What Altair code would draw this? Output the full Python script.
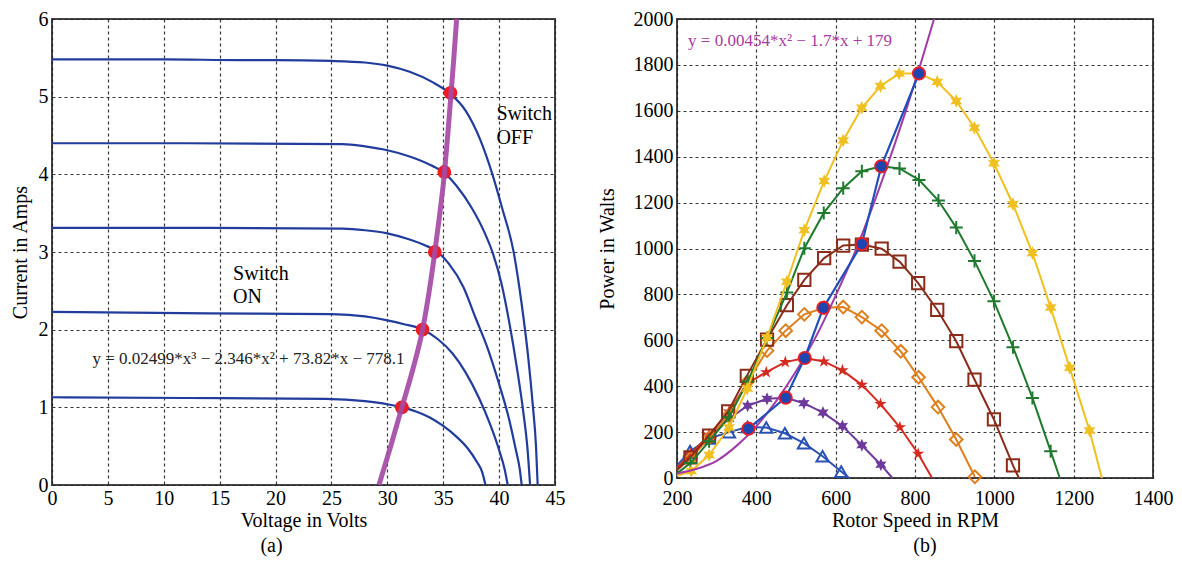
import altair as alt
import pandas as pd

FONT = "Liberation Serif"

# ---------------- Panel (a): I-V curves ----------------
v_c1 = [0, 10, 17, 20, 25, 28, 30, 32, 34, 35.6, 37, 38.3, 39.4, 40.3, 41.3, 42.0, 42.6, 43.0, 43.3, 43.45]
i_c1 = [5.48, 5.48, 5.47, 5.47, 5.46, 5.44, 5.40, 5.32, 5.19, 5.04, 4.82, 4.45, 4.00, 3.55, 3.00, 2.35, 1.65, 1.05, 0.5, 0.0]
v_c2 = [0, 12, 26, 28, 30, 32, 34, 35.1, 36.2, 37.5, 38.7, 39.4, 40.2, 40.9, 41.6, 42.2, 42.55, 42.77]
i_c2 = [4.40, 4.40, 4.39, 4.36, 4.31, 4.23, 4.11, 4.02, 3.85, 3.58, 3.25, 3.00, 2.60, 2.10, 1.50, 0.90, 0.45, 0.0]
v_c3 = [0, 14, 26, 28, 30, 32, 33.3, 34.3, 35.5, 36.8, 37.9, 39.0, 40.0, 40.8, 41.5, 41.85, 42.02]
i_c3 = [3.31, 3.31, 3.30, 3.28, 3.24, 3.16, 3.09, 3.02, 2.85, 2.55, 2.15, 1.75, 1.30, 0.90, 0.45, 0.20, 0.0]
v_c4 = [0, 14, 25, 28, 30, 31.5, 33.2, 34.5, 35.8, 37.0, 38.2, 39.2, 40.0, 40.5, 40.77]
i_c4 = [2.23, 2.21, 2.20, 2.17, 2.12, 2.07, 2.00, 1.88, 1.70, 1.45, 1.12, 0.78, 0.45, 0.20, 0.0]
v_c5 = [0, 12, 24.5, 28, 30, 31.3, 32.5, 33.8, 35, 36.2, 37.2, 38.0, 38.5, 38.78]
i_c5 = [1.13, 1.12, 1.11, 1.08, 1.04, 1.00, 0.95, 0.87, 0.76, 0.62, 0.47, 0.30, 0.16, 0.0]

v_fit = [29.25, 30.3, 31.3, 32.3, 33.15, 33.75, 34.25, 34.7, 35.1, 35.4, 35.68, 35.95, 36.2]
i_fit = [0, 0.5, 1.0, 1.5, 2.0, 2.5, 3.0, 3.5, 4.0, 4.5, 5.0, 5.5, 6.0]

v_mpp = [31.3, 33.15, 34.25, 35.1, 35.65]
i_mpp = [1.0, 2.0, 3.0, 4.03, 5.05]

a_x_ticks = [0, 5, 10, 15, 20, 25, 30, 35, 40, 45]
a_y_ticks = [0, 1, 2, 3, 4, 5, 6]

a_labels = ["Switch", "OFF", "Switch", "ON"]
a_label_x = [39.76, 39.76, 16.2, 16.2]
a_label_y = [4.78, 4.47, 2.72, 2.42]
a_eq = "y = 0.02499*x\u00b3 \u2212 2.346*x\u00b2 +  73.82*x \u2212 778.1"
a_eq_x = [3.62]
a_eq_y = [1.62]

# ---------------- Panel (b): power curves ----------------
rpm_tri = [200, 233, 281, 331, 378, 425, 472, 520, 567, 614, 634]
pw_tri = [55, 117, 172, 200, 222, 220, 195, 152, 95, 28, 0]
rpm_pur = [200, 233, 281, 331, 378, 427, 474, 520, 568, 617, 666, 714, 743]
pw_pur = [40, 95, 180, 258, 315, 345, 350, 326, 285, 226, 143, 58, 0]
rpm_red = [200, 234, 281, 331, 377, 425, 473, 522, 570, 617, 666, 713, 762, 808, 843]
pw_red = [45, 105, 188, 290, 412, 461, 505, 523, 508, 469, 406, 322, 221, 106, 0]
rpm_ora = [200, 234, 281, 331, 378, 427, 474, 521, 571, 619, 666, 716, 764, 809, 858, 904, 951]
pw_ora = [35, 85, 175, 275, 420, 555, 642, 713, 742, 745, 701, 642, 552, 439, 309, 168, 5]
rpm_bro = [200, 234, 281, 329, 376, 427, 477, 521, 571, 619, 666, 716, 761, 808, 856, 904, 950, 999, 1047, 1062]
pw_bro = [35, 90, 185, 290, 445, 603, 753, 863, 958, 1013, 1017, 999, 943, 849, 733, 596, 429, 255, 55, 0]
rpm_grn = [200, 234, 281, 331, 378, 427, 477, 521, 570, 619, 666, 715, 761, 810, 859, 904, 950, 999, 1047, 1096, 1142, 1165]
pw_grn = [20, 65, 160, 265, 420, 610, 808, 1001, 1155, 1263, 1337, 1358, 1349, 1299, 1209, 1091, 946, 770, 570, 349, 117, 0]
rpm_yel = [200, 236, 281, 331, 377, 427, 477, 521, 571, 619, 666, 713, 760, 810, 856, 904, 950, 999, 1047, 1096, 1142, 1190, 1240, 1271]
pw_yel = [10, 30, 100, 220, 390, 612, 855, 1080, 1294, 1471, 1613, 1708, 1762, 1763, 1726, 1643, 1526, 1371, 1193, 980, 743, 480, 207, 0]

rpm_par = [200, 250, 300, 350, 400, 450, 500, 550, 600, 650, 700, 750, 800, 848]
pw_par = [20, 40, 75, 140, 225, 335, 465, 615, 795, 990, 1215, 1460, 1725, 2000]

rpm_mpp = [380, 474, 522, 569, 666, 715, 810]
pw_mpp = [215, 350, 523, 742, 1020, 1358, 1763]

b_x_ticks = [200, 400, 600, 800, 1000, 1200, 1400]
b_y_ticks = [0, 200, 400, 600, 800, 1000, 1200, 1400, 1600, 1800, 2000]
b_eq = "y = 0.00454*x\u00b2 \u2212 1.7*x + 179"
b_eq_x = [228]
b_eq_y = [1904]

# ---------------- styles ----------------
PENTAGRAM = ("M0,-1L0.225,-0.309L0.951,-0.309L0.363,0.118L0.588,0.809L0,0.382"
             "L-0.588,0.809L-0.363,0.118L-0.951,-0.309L-0.225,-0.309Z")
HEXAGRAM = ("M0,-1L0.25,-0.433L0.866,-0.5L0.5,0L0.866,0.5L0.25,0.433L0,1"
            "L-0.25,0.433L-0.866,0.5L-0.5,0L-0.866,-0.5L-0.25,-0.433Z")
PLUS = "M-1,0L1,0M0,-1L0,1"

AX = dict(labelFont=FONT, titleFont=FONT, labelFontSize=20, titleFontSize=20,
          titleFontWeight="normal", labelColor="black", titleColor="black",
          labelFlush=False, format="d")


def frame(xs, ys, **extra):
    d = pd.DataFrame({"x": xs, "y": ys})
    d["o"] = range(len(d))
    for k, v in extra.items():
        d[k] = v
    return d


# ---------------- Panel (a) chart ----------------
xa = alt.X("x:Q", scale=alt.Scale(domain=[0, 45], nice=False, zero=False),
           axis=alt.Axis(values=a_x_ticks, title="Voltage in Volts", labelPadding=3, titlePadding=2, **AX))
ya = alt.Y("y:Q", scale=alt.Scale(domain=[0, 6], nice=False, zero=False),
           axis=alt.Axis(values=a_y_ticks, title="Current in Amps", labelPadding=4, titlePadding=8, **AX))

iv = pd.concat([
    frame(v_c1, i_c1, s="c1"), frame(v_c2, i_c2, s="c2"), frame(v_c3, i_c3, s="c3"),
    frame(v_c4, i_c4, s="c4"), frame(v_c5, i_c5, s="c5"),
], ignore_index=True)

iv_lines = alt.Chart(iv).mark_line(color="#213c9c", strokeWidth=2.2, interpolate="monotone").encode(
    x=xa, y=ya, detail="s:N", order="o:Q")
mpp_a = alt.Chart(frame(v_mpp, i_mpp)).mark_circle(color="#ec1c24", size=190, opacity=1).encode(x=xa, y=ya)
fit_a = alt.Chart(frame(v_fit, i_fit)).mark_line(color="#a54aa6", strokeWidth=5, opacity=0.92,
                                                  interpolate="monotone", clip=True).encode(x=xa, y=ya, order="o:Q")
txt_a = alt.Chart(pd.DataFrame({"x": a_label_x, "y": a_label_y, "t": a_labels})).mark_text(
    align="left", baseline="middle", font=FONT, fontSize=20, color="black").encode(x=xa, y=ya, text="t:N")
eq_a = alt.Chart(pd.DataFrame({"x": a_eq_x, "y": a_eq_y, "t": [a_eq]})).mark_text(
    align="left", baseline="middle", font=FONT, fontSize=17, color="#222").encode(x=xa, y=ya, text="t:N")

left = alt.layer(iv_lines, mpp_a, fit_a, txt_a, eq_a).properties(
    width=503, height=466,
    title=alt.TitleParams("(a)", orient="bottom", anchor="middle", dx=-32, offset=6))

# ---------------- Panel (b) chart ----------------
xb = alt.X("x:Q", scale=alt.Scale(domain=[200, 1400], nice=False, zero=False),
           axis=alt.Axis(values=b_x_ticks, title="Rotor Speed in RPM", labelPadding=10, titlePadding=2, **AX))
yb = alt.Y("y:Q", scale=alt.Scale(domain=[0, 2000], nice=False, zero=False),
           axis=alt.Axis(values=b_y_ticks, title="Power in Walts", labelPadding=4, titlePadding=16, **AX))

series = [
    (rpm_tri, pw_tri, "#2a52b5", "triangle-up", False, 150),
    (rpm_pur, pw_pur, "#6d3a9c", HEXAGRAM, True, 170),
    (rpm_red, pw_red, "#d52a1f", PENTAGRAM, True, 170),
    (rpm_ora, pw_ora, "#df7f1c", "diamond", False, 160),
    (rpm_bro, pw_bro, "#8b2c1a", "square", False, 150),
    (rpm_grn, pw_grn, "#1f7a2e", PLUS, False, 170),
    (rpm_yel, pw_yel, "#f0c020", HEXAGRAM, True, 190),
]

b_layers = []
for xs, ys, col, shp, filled, sz in series:
    d = frame(xs, ys)
    b_layers.append(alt.Chart(d).mark_line(color=col, strokeWidth=2).encode(x=xb, y=yb, order="o:Q"))
    dm = d[(d["x"] > 200) & (d["y"] > 0)]
    if filled:
        pm = alt.Chart(dm).mark_point(shape=shp, size=sz, filled=True, color=col, opacity=1)
    else:
        pm = alt.Chart(dm).mark_point(shape=shp, size=sz, filled=False, color=col, strokeWidth=2, opacity=1)
    b_layers.append(pm.encode(x=xb, y=yb))

par_b = alt.Chart(frame(rpm_par, pw_par)).mark_line(color="#a23aa8", strokeWidth=2, interpolate="monotone",
                                                     clip=True).encode(x=xb, y=yb, order="o:Q")
mppl_b = alt.Chart(frame(rpm_mpp, pw_mpp)).mark_line(color="#1f4fb8", strokeWidth=2.2).encode(x=xb, y=yb, order="o:Q")
mppr_b = alt.Chart(frame(rpm_mpp, pw_mpp)).mark_circle(color="#ec1c24", size=200, opacity=1).encode(x=xb, y=yb)
mppb_b = alt.Chart(frame(rpm_mpp, pw_mpp)).mark_circle(color="#1f45b0", size=110, opacity=1).encode(x=xb, y=yb)
eq_b = alt.Chart(pd.DataFrame({"x": b_eq_x, "y": b_eq_y, "t": [b_eq]})).mark_text(
    align="left", baseline="middle", font=FONT, fontSize=17, color="#a83aa0").encode(x=xb, y=yb, text="t:N")

right = alt.layer(*b_layers, par_b, mppl_b, mppr_b, mppb_b, eq_b).properties(
    width=476, height=459,
    title=alt.TitleParams("(b)", orient="bottom", anchor="middle", dx=10, offset=6))

chart = alt.hconcat(left, right, spacing=122, bounds="flush").properties(
    padding={"left": 1, "top": 0, "right": 0, "bottom": 0}
).configure_axis(
    grid=True, gridColor="#222", gridDash=[3, 3],
    gridWidth=1.2, gridOpacity=0.9, domain=False, ticks=False,
).configure_view(
    stroke="#444", strokeWidth=2
).configure_title(font=FONT, fontSize=20, fontWeight="normal", color="black")

chart.save("out.html", embed_options={"renderer": "svg", "actions": False})
